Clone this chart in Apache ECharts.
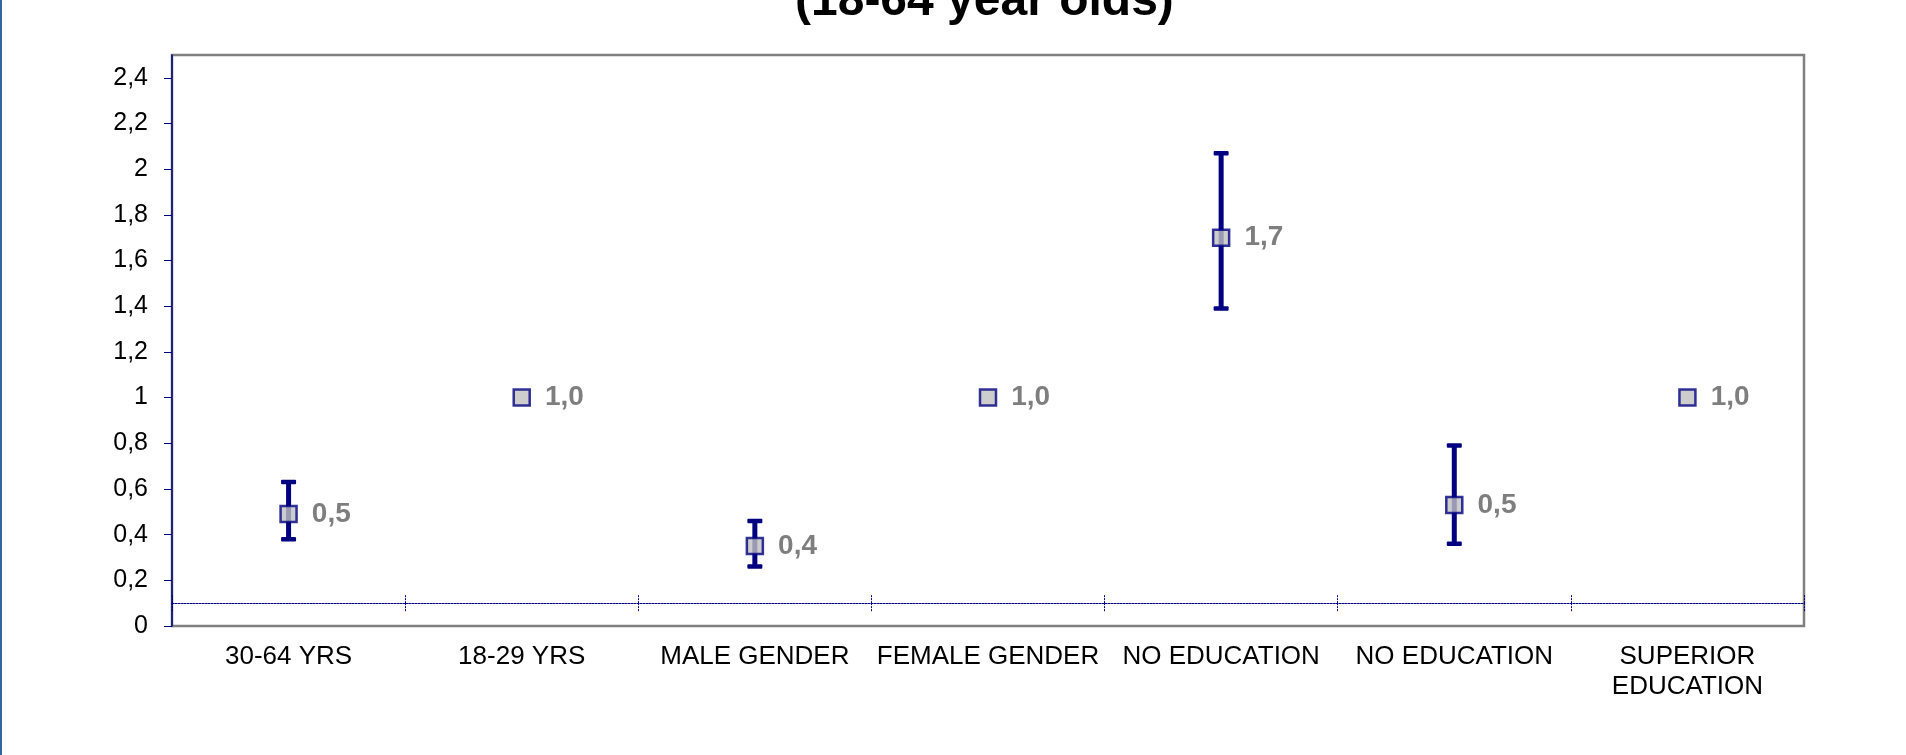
<!DOCTYPE html>
<html>
<head>
<meta charset="utf-8">
<title>Odds ratios (18-64 year olds)</title>
<script src="https://cdn.jsdelivr.net/npm/echarts@6/dist/echarts.min.js"></script>
<style>
  html, body { margin: 0; padding: 0; background: #fff; }
  #chart { width: 1906px; height: 755px; }
</style>
</head>
<body>
<div id="chart"></div>
<script>
// categories on the x axis
const categories = ['30-64 YRS', '18-29 YRS', 'MALE GENDER', 'FEMALE GENDER', 'NO EDUCATION', 'NO EDUCATION', 'SUPERIOR\nEDUCATION'];
// point estimate and confidence limits (null = reference category, no bar)
const oddsRatio = [0.49, 1.0, 0.35, 1.0, 1.70, 0.53, 1.0];
const lowerCI = [0.38, null, 0.26, null, 1.39, 0.36, null];
const upperCI = [0.63, null, 0.46, null, 2.07, 0.79, null];
// y axis tick labels
const yTicks = [0, 0.2, 0.4, 0.6, 0.8, 1, 1.2, 1.4, 1.6, 1.8, 2, 2.2, 2.4];
const yMax = 2.5;
const crossAt = 0.1; // category axis crosses here

const FONT = '"Liberation Sans", Arial, sans-serif';
const NAVY = '#000080';

const grid = { left: 172, right: 102, top: 55, bottom: 129 };
const gridH = 755 - grid.top - grid.bottom;
const crossOffset = -gridH * crossAt / yMax;

const chart = echarts.init(document.getElementById('chart'));

// axis ticks: 1 and 2 without decimals, comma as separator
const fmtTick = (v) => String(+v.toFixed(1)).replace('.', ',');
// point labels: always one decimal
const fmtPoint = (v) => (Math.round(v * 10) / 10).toFixed(1).replace('.', ',');

const barData = [];
oddsRatio.forEach((v, i) => {
  if (lowerCI[i] != null) barData.push([i, lowerCI[i], upperCI[i]]);
});

const option = {
  animation: false,
  backgroundColor: '#fff',
  title: {
    text: '(18-64 year olds)',
    left: 790,
    top: -27,
    textStyle: { fontFamily: FONT, fontSize: 48, fontWeight: 'bold', color: '#000' }
  },
  graphic: [
    {
      type: 'rect',
      shape: { x: 0, y: 0, width: 2, height: 755 },
      style: { fill: '#336699' }
    }
  ],
  grid: Object.assign({ show: true, borderColor: '#808080', borderWidth: 2.5, backgroundColor: '#fff' }, grid),
  xAxis: [
    {
      type: 'category',
      data: categories,
      position: 'bottom',
      axisLine: { show: false },
      axisTick: { show: false },
      axisLabel: {
        interval: 0,
        margin: 16,
        fontFamily: FONT,
        fontSize: 26,
        lineHeight: 30,
        color: '#000'
      }
    },
    // dotted crossing line at 0.1 with boundary ticks (downward)
    {
      type: 'category',
      data: categories,
      position: 'bottom',
      offset: crossOffset,
      axisLine: { show: true, lineStyle: { color: NAVY, width: 1, type: [2, 1] } },
      axisTick: { show: true, length: 8, lineStyle: { color: NAVY, width: 1, type: [2, 1] } },
      axisLabel: { show: false }
    },
    // upward half of the boundary ticks
    {
      type: 'category',
      data: categories,
      position: 'bottom',
      offset: crossOffset,
      axisLine: { show: false },
      axisTick: { show: true, inside: true, length: 8, lineStyle: { color: NAVY, width: 1, type: [2, 1] } },
      axisLabel: { show: false }
    }
  ],
  yAxis: {
    type: 'value',
    min: 0,
    max: yMax,
    interval: 0.2,
    splitLine: { show: false },
    axisLine: { show: true, lineStyle: { color: NAVY, width: 1.5 } },
    axisTick: { show: true, length: 8, customValues: yTicks, lineStyle: { color: NAVY, width: 1 } },
    axisLabel: {
      customValues: yTicks,
      margin: 24,
      fontFamily: FONT,
      fontSize: 25,
      color: '#000',
      formatter: fmtTick
    }
  },
  series: [
    {
      type: 'custom',
      name: 'CI',
      z: 2,
      data: barData,
      encode: { x: 0, y: [1, 2] },
      renderItem: (params, api) => {
        const i = api.value(0);
        const lo = api.coord([i, api.value(1)]);
        const hi = api.coord([i, api.value(2)]);
        const capW = 15, capH = 4.5;
        return {
          type: 'group',
          children: [
            {
              type: 'line',
              shape: { x1: lo[0], y1: lo[1], x2: hi[0], y2: hi[1] },
              style: { stroke: NAVY, lineWidth: 5 }
            },
            {
              type: 'rect',
              shape: { x: hi[0] - capW / 2, y: hi[1] - capH / 2, width: capW, height: capH, r: 1 },
              style: { fill: NAVY }
            },
            {
              type: 'rect',
              shape: { x: lo[0] - capW / 2, y: lo[1] - capH / 2, width: capW, height: capH, r: 1 },
              style: { fill: NAVY }
            }
          ]
        };
      }
    },
    {
      type: 'scatter',
      name: 'OR',
      z: 3,
      symbol: 'rect',
      symbolSize: 16,
      itemStyle: { color: '#C0C0C0', borderColor: NAVY, borderWidth: 2.5 },
      label: {
        show: true,
        position: 'right',
        distance: 14,
        fontFamily: FONT,
        fontSize: 28,
        fontWeight: 'bold',
        color: '#5e5e5e',
        formatter: (p) => fmtPoint(p.value[1])
      },
      data: oddsRatio.map((v, i) => [i, v])
    }
  ]
};

chart.setOption(option);
</script>
</body>
</html>
